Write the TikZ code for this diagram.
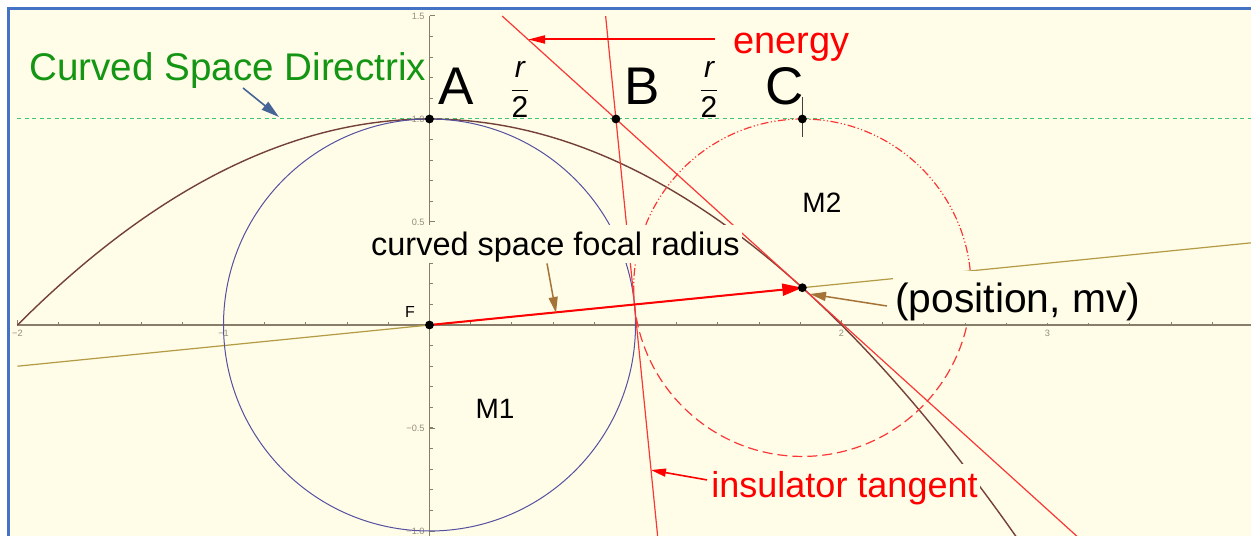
\documentclass[tikz,border=0pt]{standalone}
\usepackage{amsmath}
\usepackage{fontspec}
\setmainfont{Liberation Sans}
\usetikzlibrary{arrows.meta,positioning}
\definecolor{plotbg}{RGB}{255,253,232}
\definecolor{frameblue}{RGB}{68,114,196}
\definecolor{axisgray}{RGB}{135,125,105}
\definecolor{ticktext}{RGB}{150,140,125}
\definecolor{circblue}{RGB}{85,80,160}
\definecolor{parabrown}{RGB}{115,65,55}
\definecolor{radolive}{RGB}{180,155,70}
\definecolor{dirgreen}{RGB}{60,200,110}
\definecolor{txtgreen}{RGB}{20,150,20}
\definecolor{arrbrown}{RGB}{165,115,55}
\definecolor{arrblue}{RGB}{70,100,150}
\definecolor{linered}{RGB}{250,55,55}

\begin{document}
\begin{tikzpicture}[x=103pt,y=103pt,every node/.style={inner sep=0pt},
    dot/.style={circle,fill=black,minimum size=4.4pt,inner sep=0pt},
    lbl/.style={fill=plotbg,text depth=0pt,inner xsep=1pt,inner ysep=3.5pt},
    ticklbl/.style={text=ticktext,font=\fontsize{4.6}{5}\selectfont},
    tick/.style={axisgray,line width=0.5pt},
    point/.style={font=\fontsize{26.5}{30}\selectfont,anchor=base},
    half/.style={font=\fontsize{15}{18}\selectfont},
    mass/.style={font=\fontsize{14}{16}\selectfont,anchor=base}]
  \useasboundingbox (-2.08495,-1.01942) rectangle (3.98787,1.57767);
  \clip (-2.08495,-1.01942) rectangle (3.98787,1.57767);
  \fill[white] (-2.08495,-1.01942) rectangle (3.98787,1.57767);
  \fill[plotbg] (-2.0437,-1.1) rectangle (4.1,1.5364);
  \draw[frameblue,line width=1.25pt] (-2.0437,-1.1) -- (-2.0437,1.5364) -- (4.1,1.5364);

  \coordinate (F) at (0,0);
  \coordinate (A) at (0,1);
  \coordinate (B) at (0.905,1);
  \coordinate (C) at (1.81,1);
  \coordinate (P) at (1.81,0.181);

  \draw[axisgray,line width=0.6pt] (-2,0) -- (4.1,0);
  \draw[axisgray,line width=0.6pt] (0,-1.03) -- (0,1.5);
  \foreach \x in {-2,-1.8,...,4} \draw[tick] (\x,0) -- ++(0,1.5pt);
  \foreach \x in {-2,...,4} \draw[tick] (\x,0) -- ++(0,2.5pt);
  \foreach \y in {-1,-0.9,...,1.5} \draw[tick] (0,\y) -- ++(1.5pt,0);
  \foreach \y in {-1,-0.5,...,1.5} \draw[tick] (0,\y) -- ++(2.5pt,0);
  \foreach \x/\t/\n in {-2/−2/a,-1/−1/b,2/2/c,3/3/d,4/4/e}
    \node[ticklbl,anchor=north] (xt\n) at ([yshift=-2.5pt]\x,0) {\t};
  \foreach \y/\t/\n in {1.5/1.5/a,1/1.0/b,0.5/0.5/c,-0.5/−0.5/d,-1/−1.0/e}
    \node[ticklbl,anchor=east] (yt\n) at ([xshift=-2.25pt]0,\y) {\t};

  \draw[dirgreen,line width=0.5pt,dash pattern=on 2pt off 1.75pt] (-2,1) -- (4.1,1);
  \draw[radolive,line width=0.6pt] (-2,-0.2) -- (4,0.4);
  \draw[parabrown,line width=0.7pt,domain=-2:2.9,samples=90,smooth] plot (\x,{1-\x*\x/4});
  \draw[circblue,line width=0.5pt] (F) circle (1);
  \draw[linered,line width=0.6pt,dash pattern=on 4pt off 1.2pt on 0.6pt off 1.2pt on 0.6pt off 1.2pt]
    (P) ++(0:0.819) arc[start angle=0,end angle=180,radius=0.819];
  \draw[linered,line width=0.6pt,dash pattern=on 5pt off 2.5pt]
    (P) ++(180:0.819) arc[start angle=180,end angle=360,radius=0.819];

  \coordinate (en1) at (0.3525,1.5);
  \coordinate (en2) at (3.192,-1.07);
  \coordinate (in1) at (0.855,1.5);
  \coordinate (in2) at (1.112,-1.07);
  \draw[linered,line width=0.6pt] (en1) -- (en2);
  \draw[linered,line width=0.6pt] (in1) -- (in2);
  \draw[red,line width=1pt,-{Triangle[length=10pt,width=6pt]}] (F) -- (P);
  \draw[black!75,line width=0.6pt] ([yshift=11pt]C) -- ([yshift=-9pt]C);

  \node[anchor=base west,text=txtgreen,font=\fontsize{19.3}{23}\selectfont] (directrix) at (-1.944,1.189) {Curved Space Directrix};
  \node[point] (labA) at (0.1286,1.068) {A};
  \node[point] (labB) at (1.034,1.068) {B};
  \node[point] (labC) at (1.723,1.068) {C};
  \node[half] (halfAB) at (0.439,1.143) {$\dfrac{\textit{r}}{\textrm{2}}$};
  \node[half] (halfBC) at (1.357,1.143) {$\dfrac{\textit{r}}{\textrm{2}}$};
  \node[lbl,anchor=base west,text=red,font=\fontsize{19}{22}\selectfont] (energy) at (1.463,1.320) {energy};
  \node[lbl,anchor=base west,text=red,font=\fontsize{18}{21}\selectfont] (insul) at (1.357,-0.835) {insulator tangent};
  \node[lbl,anchor=base west,inner ysep=5.5pt,font=\fontsize{20.4}{24}\selectfont] (posmv) at (2.25,0.0631) {(position, mv)};
  \node[lbl,anchor=base west,font=\fontsize{16.25}{19}\selectfont] (focal) at (-0.295,0.335) {curved space focal radius};
  \node[mass] (M1) at (0.318,-0.456) {M1};
  \node[mass] (M2) at (1.905,0.544) {M2};
  \node[anchor=base,font=\fontsize{8}{9}\selectfont] (labF) at (-0.0947,0.0388) {F};

  \coordinate (dirtip) at (-0.7306,1.0097);
  \coordinate (entip) at (0.4785,1.386);
  \coordinate (intip) at (1.075,-0.704);
  \coordinate (postip) at (1.847,0.1505);
  \coordinate (focaltip) at (0.6141,0.0583);
  \draw[arrblue,line width=0.8pt,-{Triangle[length=9pt,width=5pt]}] (-0.9053,1.1505) -- (dirtip);
  \draw[red,line width=1pt,-{Triangle[length=8.5pt,width=4pt]}] (energy.west |- entip) ++(-8pt,0) -- (entip);
  \draw[red,line width=0.8pt,-{Triangle[length=7.5pt,width=4pt]}] (1.347,-0.752) -- (intip);
  \draw[arrbrown,line width=0.75pt,-{Triangle[length=8pt,width=4.5pt]}] (2.221,0.0922) -- (postip);
  \draw[arrbrown,line width=0.75pt,-{Triangle[length=8pt,width=4.5pt]}] (focal.south -| 0.5704,0) -- (focaltip);

  \node[dot] (dotA) at (A) {};
  \node[dot] (dotB) at (B) {};
  \node[dot] (dotC) at (C) {};
  \node[dot] (dotP) at (P) {};
  \node[dot] (dotF) at (F) {};
\end{tikzpicture}
\end{document}
